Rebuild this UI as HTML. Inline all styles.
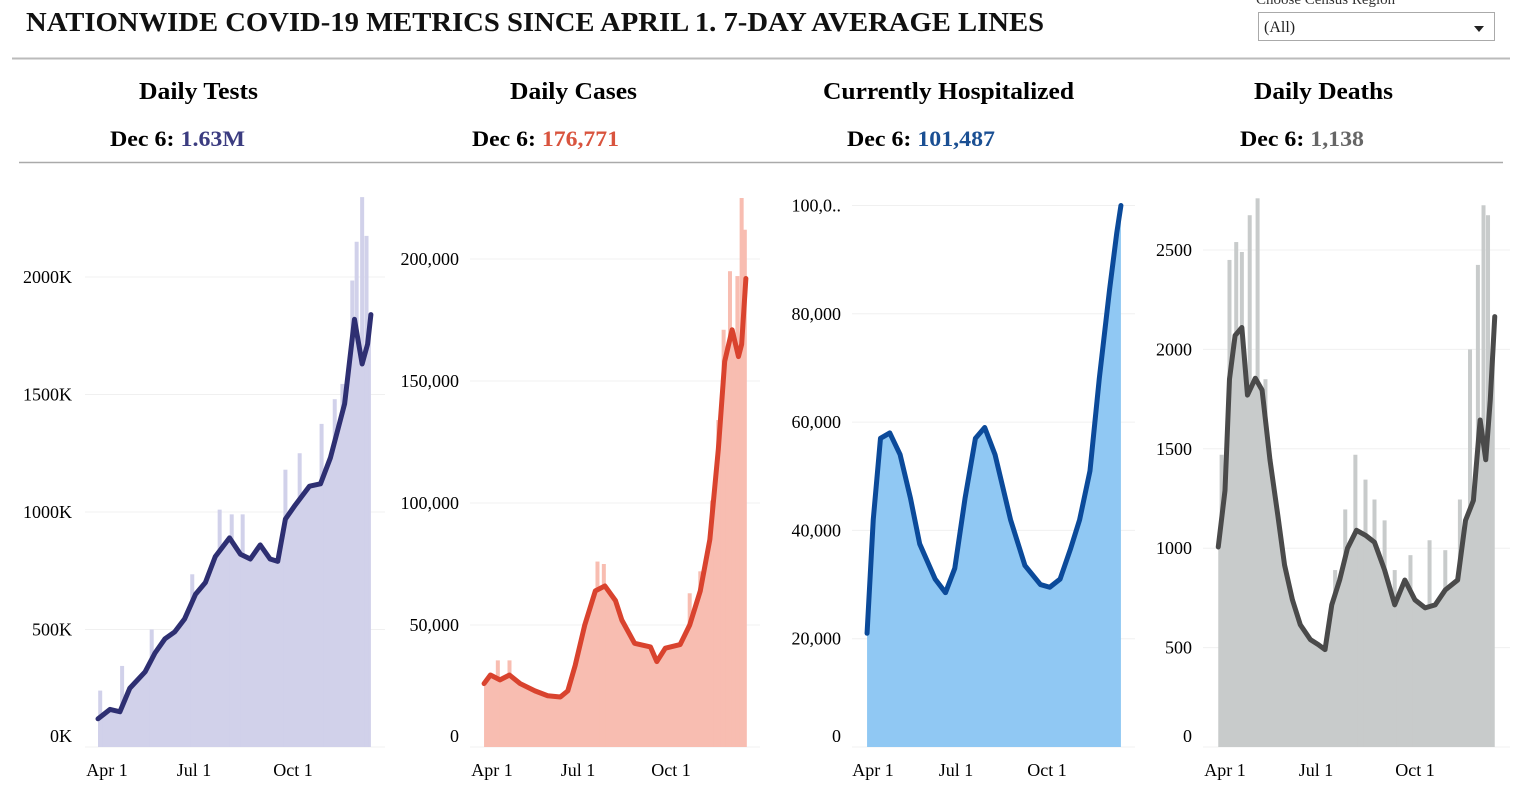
<!DOCTYPE html>
<html><head><meta charset="utf-8">
<style>
body{margin:0;width:1517px;height:791px;background:#fff;overflow:hidden;font-family:"Liberation Serif",serif;}
svg{position:absolute;left:0;top:0}
</style></head>
<body>
<svg id="s" width="1517" height="791">
<text x="26" y="31" font-size="27" font-weight="bold" fill="#111" textLength="1018" lengthAdjust="spacingAndGlyphs">NATIONWIDE COVID-19 METRICS SINCE APRIL 1. 7-DAY AVERAGE LINES</text>
<text x="1256" y="4" font-size="15" fill="#333">Choose Census Region</text>
<g>
<rect x="1258.5" y="12.5" width="236" height="28" fill="#fff" stroke="#aaa"/>
<text x="1264" y="32" font-size="16" fill="#222">(All)</text>
<path d="M1474 26 L1484 26 L1479 32 Z" fill="#222"/>
</g>
<line x1="12" y1="58.5" x2="1510" y2="58.5" stroke="#bbb" stroke-width="2"/>
<line x1="19" y1="162.5" x2="1503" y2="162.5" stroke="#aaa" stroke-width="1.5"/>
<g font-weight="bold" lengthAdjust="spacingAndGlyphs">
<text x="139" y="99" font-size="24" textLength="119" lengthAdjust="spacingAndGlyphs">Daily Tests</text>
<text x="510" y="99" font-size="24" textLength="127" lengthAdjust="spacingAndGlyphs">Daily Cases</text>
<text x="823" y="99" font-size="24" textLength="251" lengthAdjust="spacingAndGlyphs">Currently Hospitalized</text>
<text x="1254" y="99" font-size="24" textLength="139" lengthAdjust="spacingAndGlyphs">Daily Deaths</text>
<text x="110" y="146" font-size="22" textLength="135" lengthAdjust="spacingAndGlyphs">Dec 6: <tspan fill="#3b3c80">1.63M</tspan></text>
<text x="472" y="146" font-size="22" textLength="147" lengthAdjust="spacingAndGlyphs">Dec 6: <tspan fill="#d9543e">176,771</tspan></text>
<text x="847" y="146" font-size="22" textLength="148" lengthAdjust="spacingAndGlyphs">Dec 6: <tspan fill="#1a4f93">101,487</tspan></text>
<text x="1240" y="146" font-size="22" textLength="124" lengthAdjust="spacingAndGlyphs">Dec 6: <tspan fill="#666">1,138</tspan></text>
</g>
</svg>
<script>
// Tests (thousands)
const testDays=[0,11,20,29,43,52,61,70,79,89,98,107,120,130,139,148,157,164,171,180,193,203,212,225,234,241,246,249];
const testAvg=[120,160,150,250,320,400,460,490,545,650,700,810,890,820,800,860,800,790,970,1030,1110,1120,1230,1460,1820,1630,1715,1840];
const testSpikeDays=[2,22,49,86,111,122,132,171,184,204,216,223,232,236,241,245];
const testSpikes=[240,345,500,735,1010,990,990,1180,1250,1375,1480,1545,1985,2150,2340,2175];
const testTicks=[0,500,1000,1500,2000];
const testTickLabels=["0K","500K","1000K","1500K","2000K"];
// Cases (thousands)
const caseDays=[1,7,16,25,35,49,61,73,80,87,96,106,115,125,131,143,158,164,172,186,195,205,214,222,228,235,241,244,248];
const caseAvg=[26,29.5,27.5,29.5,26,23,21,20.5,23,33.5,50,64,66,60,52,42.5,41,35,40.5,42,50,64,85,122,158,171,160,165,192];
const caseSpikeDays=[14,25,108,114,195,205,216,222,227,233,240,244,247];
const caseSpikes=[35.5,35.5,76,75,63,72,101,134,171,195,193,225,212];
const caseTicks=[0,50,100,150,200];
const caseTickLabels=["0","50,000","100,000","150,000","200,000"];
// Hospitalized (thousands)
const hospDays=[2,8,15,24,34,44,53,68,78,87,97,107,116,126,141,155,170,179,189,199,208,218,227,237,244,248];
const hospAvg=[21,42,57,58,54,46,37.5,31,28.5,33,46,57,59,54,42,33.5,30,29.5,31,36.5,42,51,68,84.5,95,100];
const hospSpikeDays=[];
const hospSpikes=[];
const hospTicks=[0,20,40,60,80,100];
const hospTickLabels=["0","20,000","40,000","60,000","80,000","100,0.."];
// Deaths
const deathDays=[2,8,12,17,23,28,35,41,48,55,61,68,75,84,91,97,103,110,117,125,133,141,150,159,168,177,186,195,204,215,222,229,235,240,244,248];
const deathAvg=[1006,1290,1850,2070,2110,1770,1855,1795,1445,1165,915,740,615,540,515,490,715,840,1000,1090,1065,1030,890,715,840,740,700,715,790,840,1140,1240,1645,1445,1745,2165];
const deathSpikeDays=[5,12,18,23,30,37,44,106,115,124,133,141,150,159,173,190,204,217,226,233,238,242,246];
const deathSpikes=[1470,2450,2540,2490,2675,2760,1850,890,1195,1470,1345,1245,1140,890,965,1040,990,1245,2000,2425,2725,2675,1140];
const deathTicks=[0,500,1000,1500,2000,2500];
const deathTickLabels=["0","500","1000","1500","2000","2500"];
const dateTickLabels=["Apr 1","Jul 1","Oct 1"];

const NS="http://www.w3.org/2000/svg";
const svg=document.getElementById('s');
const BASE=747;
const charts=[
 {key:'tests',days:testDays,avg:testAvg,sd:testSpikeDays,sv:testSpikes,ticks:testTicks,tl:testTickLabels,x0:98,pxd:1.096,per:0.235,tickX:72,gx1:85,gx2:385,fill:'#d1d1ea',line:'#2e2f72',dl:[107,194,293]},
 {key:'cases',days:caseDays,avg:caseAvg,sd:caseSpikeDays,sv:caseSpikes,ticks:caseTicks,tl:caseTickLabels,x0:483,pxd:1.06,per:2.44,tickX:459,gx1:470,gx2:760,fill:'#f8bdb1',line:'#d9432e',dl:[492,578,671]},
 {key:'hosp',days:hospDays,avg:hospAvg,sd:hospSpikeDays,sv:hospSpikes,ticks:hospTicks,tl:hospTickLabels,x0:865,pxd:1.032,per:5.415,tickX:841,gx1:852,gx2:1135,fill:'#90c8f3',line:'#0b4a9a',dl:[873,956,1047]},
 {key:'deaths',days:deathDays,avg:deathAvg,sd:deathSpikeDays,sv:deathSpikes,ticks:deathTicks,tl:deathTickLabels,x0:1216,pxd:1.124,per:0.1988,tickX:1192,gx1:1203,gx2:1510,fill:'#c8cbcb',line:'#4a4a4a',dl:[1225,1316,1415]}
];
charts.forEach(c=>{
 const X=d=>c.x0+d*c.pxd;
 const Y=v=>BASE-v*c.per;
 const g=document.createElementNS(NS,'g');
 
 
 svg.appendChild(g);
 c.ticks.forEach((t,i)=>{
  const gl=document.createElementNS(NS,'line');
  
  
  gl.setAttribute('x1',c.gx1);gl.setAttribute('x2',c.gx2);
  gl.setAttribute('y1',Y(t));gl.setAttribute('y2',Y(t));
  gl.setAttribute('stroke','#f0f0f0');
  g.appendChild(gl);
  const tx=document.createElementNS(NS,'text');
  
  
  tx.setAttribute('x',c.tickX);tx.setAttribute('y',Math.min(Y(t),736)+6);
  tx.setAttribute('text-anchor','end');tx.setAttribute('font-size','18');
  tx.textContent=c.tl[i];
  g.appendChild(tx);
 });
 let pts=`${X(c.days[0])},${BASE} `+c.days.map((d,i)=>`${X(d)},${Y(c.avg[i])}`).join(' ')+` ${X(c.days[c.days.length-1])},${BASE}`;
 const area=document.createElementNS(NS,'polygon');
 
 
 area.setAttribute('points',pts);area.setAttribute('fill',c.fill);
 g.appendChild(area);
 c.sd.forEach((d,i)=>{
  const r=document.createElementNS(NS,'rect');
  
  
  r.setAttribute('x',X(d)-2);r.setAttribute('width',4);
  r.setAttribute('y',Y(c.sv[i]));r.setAttribute('height',BASE-Y(c.sv[i]));
  r.setAttribute('fill',c.fill);
  g.appendChild(r);
 });
 const pl=document.createElementNS(NS,'polyline');
 
 
 pl.setAttribute('points',c.days.map((d,i)=>`${X(d)},${Y(c.avg[i])}`).join(' '));
 pl.setAttribute('fill','none');pl.setAttribute('stroke',c.line);pl.setAttribute('stroke-width','5');
 pl.setAttribute('stroke-linejoin','round');pl.setAttribute('stroke-linecap','round');
 g.appendChild(pl);
 dateTickLabels.forEach((l,i)=>{
  const tx=document.createElementNS(NS,'text');
  
  
  tx.setAttribute('x',c.dl[i]);tx.setAttribute('y',776);
  tx.setAttribute('text-anchor','middle');tx.setAttribute('font-size','18');
  tx.textContent=l;
  g.appendChild(tx);
 });
});
</script>
</body></html>
